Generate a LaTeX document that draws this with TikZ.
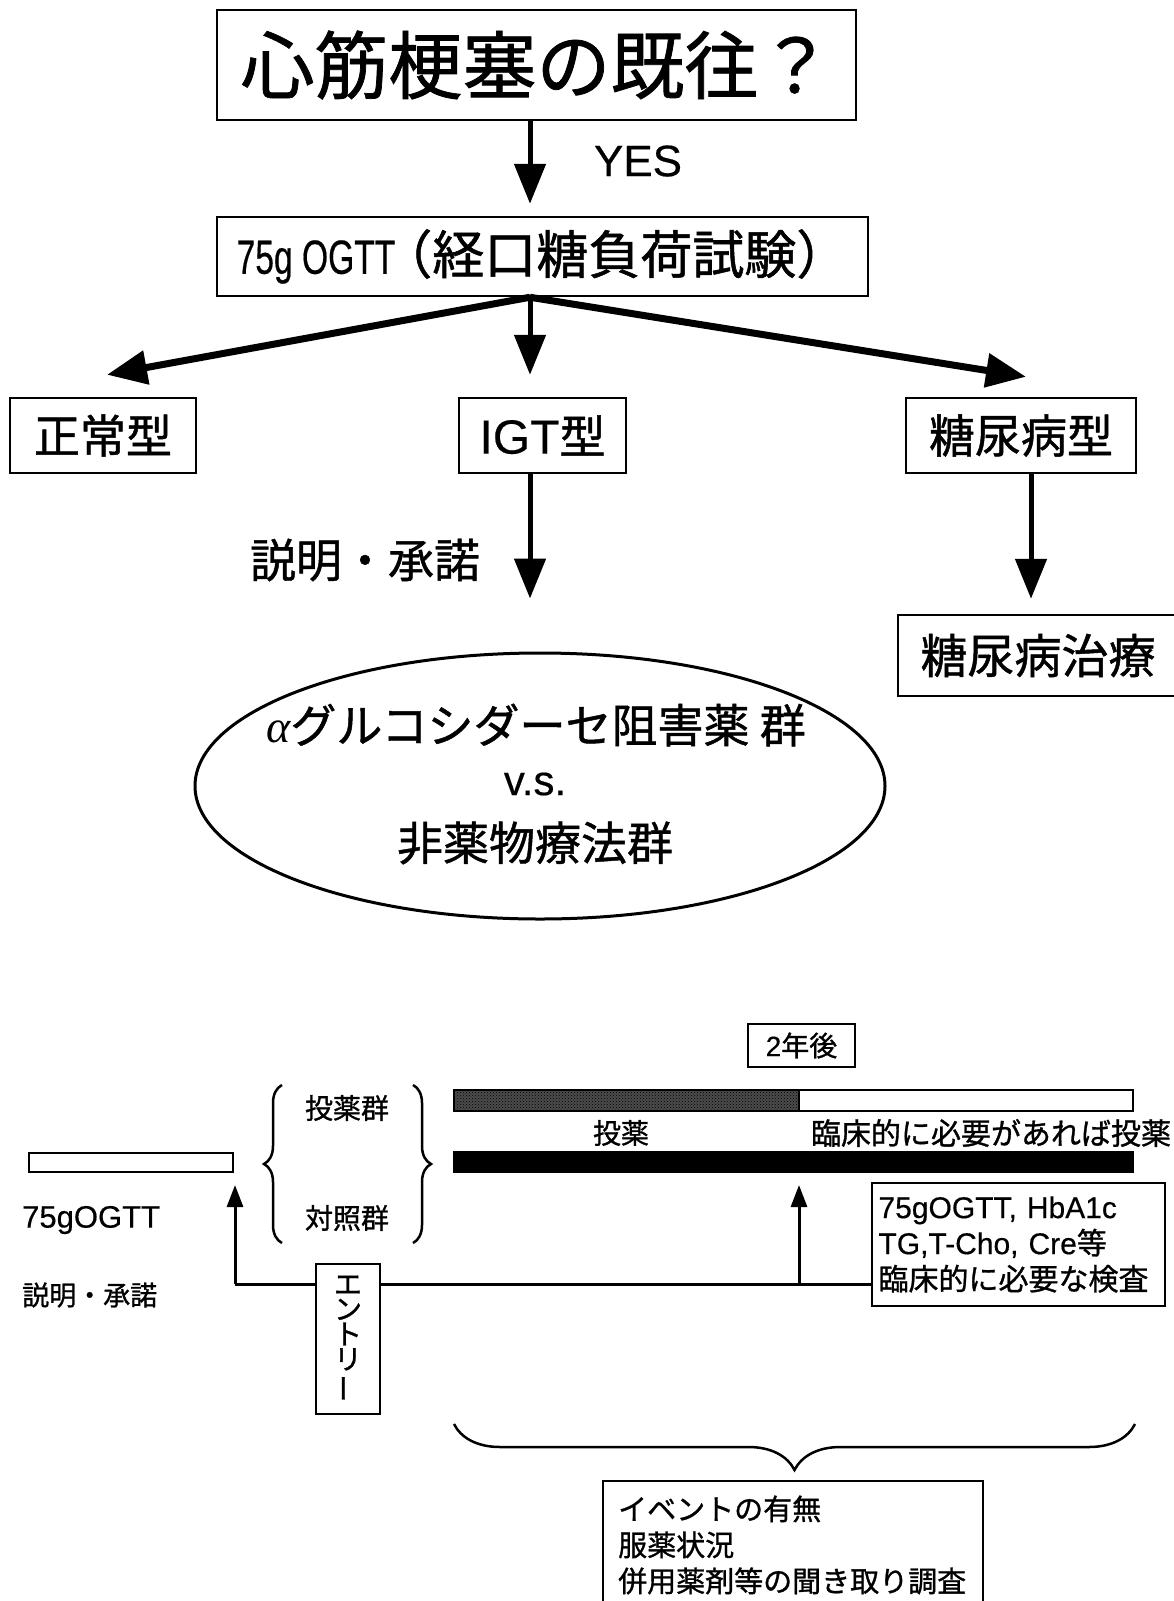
\documentclass[tikz,border=0pt]{standalone}
\usepackage{fontspec}
\setmainfont{Liberation Sans}[FakeBold=0.4]
\newfontfamily\jp{Noto Sans CJK JP}[FakeBold=1]
\newfontfamily\lc[FakeStretch=0.7,FakeBold=0.4]{Liberation Sans}
\newfontfamily\grk{Liberation Serif}
\usetikzlibrary{arrows.meta,decorations.pathreplacing,patterns,shapes.geometric,calc}
\newcommand\myfs[1]{\fontsize{#1}{#1}\selectfont}
\begin{document}
\begin{tikzpicture}[x=1pt,y=-1pt,
  box/.style={draw, line width=2.5pt, fill=white, inner sep=0pt},
  bigarr/.style={line width=5pt, -{Triangle[length=40pt,width=31pt]}},
  diagarr/.style={line width=7pt, -{Triangle[length=40pt,width=33pt]}},
  smallarr/.style={line width=3pt, -{Triangle[length=22pt,width=16pt]}},
  bar/.style={draw, line width=2pt, inner sep=0pt},
  brc/.style={decorate, decoration={brace, amplitude=#1}, line width=2.5pt}
]
\useasboundingbox (0,0) rectangle (1173,1601);

% ---------- upper flow chart ----------
\coordinate (ax) at (530,0);
\coordinate (bx) at (1031,0);

\node[box, minimum width=639, minimum height=110, font=\jp\myfs{74}] (title) at (536.5,65) {心筋梗塞の既往？};
\node[box, minimum width=651, minimum height=79] (ogtt) at (542.5,256.5)
  {{\lc\myfs{48}75g OGTT}\kern-15pt{\jp\myfs{52}（経口糖負荷試験）}};
\node[font=\myfs{44}] (yes) at (638,161) {YES};

\node[box, minimum width=186, minimum height=75, font=\jp\myfs{46}] (normal) at (103,435.5) {正常型};
\node[box, minimum width=167, minimum height=75] (igt) at (542.5,435.5) {{\myfs{48}IGT}{\jp\myfs{46}型}};
\node[box, minimum width=230, minimum height=75, font=\jp\myfs{46}] (dm) at (1021,435.5) {糖尿病型};

\node[font=\jp\myfs{46}] (consent) at (365,560) {説明・承諾};

\node[box, minimum width=280, minimum height=81, font=\jp\myfs{47}] (dmtx) at (1038,655.5) {糖尿病治療};

\node[draw, line width=3pt, ellipse, minimum width=690, minimum height=266, inner sep=0pt] (ell) at (540,786) {};
\node[font=\jp\myfs{46}] (e1) at (536,725) {{\grk\itshape α}グルコシダーセ阻害薬 群};
\node[font=\myfs{42}] (e2) at (535,784) {v.s.};
\node[font=\jp\myfs{46}] (e3) at (535,843) {非薬物療法群};

\draw[bigarr] (title.south -| ax) -- (ogtt.north -| ax) [shorten >=12pt];
\draw[diagarr] (ogtt.south -| ax) -- ($(normal.north)+(4,-22)$);
\draw[bigarr] (ogtt.south -| ax) -- ($(igt.north -| ax)+(0,-22)$);
\draw[diagarr] (ogtt.south -| ax) -- ($(dm.north)+(5,-20)$);
\draw[bigarr] (igt.south -| ax) -- ($(ell.north -| ax)+(0,-53)$);
\draw[bigarr] (dm.south -| bx) -- ($(dmtx.north -| bx)+(0,-15)$);

% ---------- lower time line ----------
\node[box, line width=2pt, minimum width=107, minimum height=43, font=\jp\myfs{28}] (yr) at (801.5,1045.5) {{\rmfamily 2}年後};

\node[bar, fill=black!70, postaction={pattern=crosshatch dots, pattern color=black}, minimum width=345, minimum height=21] (hbar) at (626.5,1100.5) {};
\node[bar, fill=white, minimum width=334, minimum height=21] (wbar) at (966,1100.5) {};
\node[font=\jp\myfs{28}] (tl1) at (621,1133) {投薬};
\node[font=\jp\myfs{30}] (tl2) at (991,1133) {臨床的に必要があれば投薬};
\node[bar, fill=black, minimum width=679, minimum height=20] (bbar) at (793.5,1162) {};
\node[bar, fill=white, minimum width=204, minimum height=19] (lbar) at (131,1162.5) {};

\node[font=\jp\myfs{28}] (g1) at (347,1108) {投薬群};
\node[font=\jp\myfs{28}] (g2) at (347,1218) {対照群};
\draw[brc=18pt] (282,1243) -- (282,1085);
\draw[brc=18pt] (413,1085) -- (413,1243);

\node[anchor=west, inner sep=0pt, font=\myfs{31}] (l1) at (22,1220) {75gOGTT};
\node[anchor=west, inner sep=0pt, font=\jp\myfs{27}] (l2) at (22,1295) {説明・承諾};

\node[box, line width=2pt, anchor=north west, minimum width=293, minimum height=123, align=left,
      text width=280, inner xsep=6pt, font=\jp\fontsize{30}{36}\selectfont] (rbox) at (871,1182)
  {{\rmfamily 75gOGTT, HbA1c}\\{\rmfamily TG,T-Cho, Cre}等\\臨床的に必要な検査};

\coordinate (c1) at (235,1284);
\coordinate (c2) at (799,1284);
\draw[line width=3pt] (c1) -- (c1 -| rbox.west);
\draw[smallarr, shorten >=12pt] (c1) -- (c1 |- lbar.south);
\draw[smallarr, shorten >=12pt] (c2) -- (c2 |- bbar.south);

\node[box, line width=2pt, minimum width=64, minimum height=150, align=center,
      font=\jp\fontsize{28}{25}\selectfont] (entry) at (348,1339)
  {エ\\ン\\ト\\リ\\\rotatebox[origin=c]{90}{ー}};

\draw[brc=46pt] (1135,1424) -- (454,1424);

\node[box, line width=2pt, anchor=north west, minimum width=380, minimum height=150] (bbox) at (602,1480) {};
\node[anchor=west, inner sep=0pt, align=left, font=\jp\fontsize{29}{36}\selectfont] (btext) at ($(bbox.north west)+(16,65)$)
  {イベントの有無\\服薬状況\\併用薬剤等の聞き取り調査};
\end{tikzpicture}
\end{document}
